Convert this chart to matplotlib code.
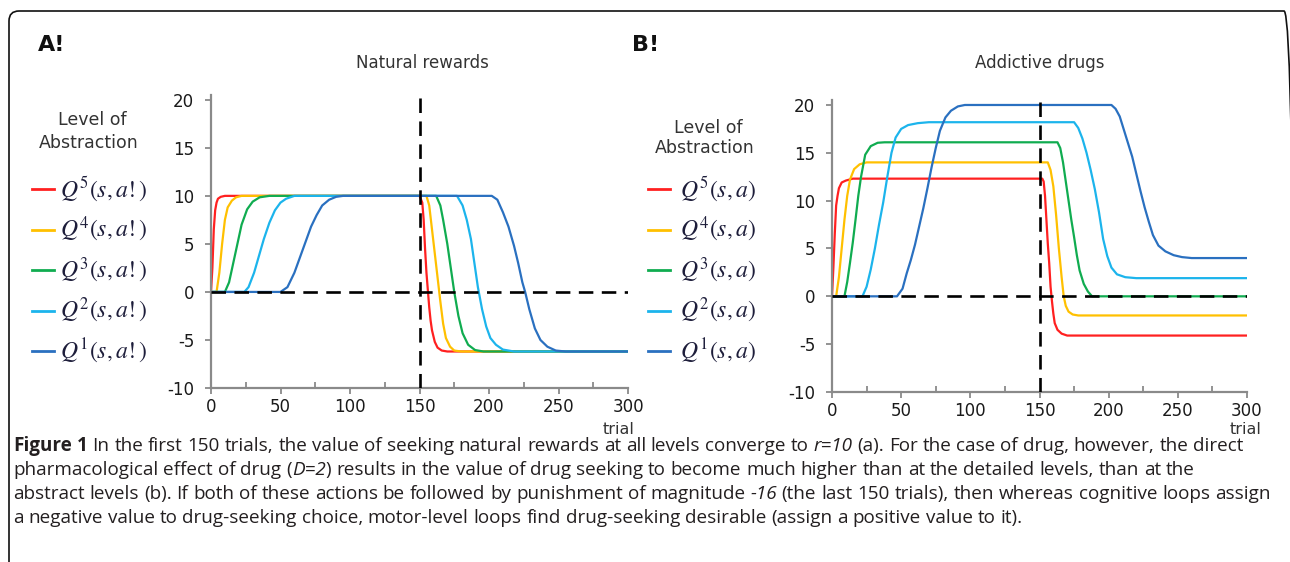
#!/usr/bin/env python3
"""Value of seeking natural rewards vs addictive drugs at five levels of abstraction."""

import matplotlib

matplotlib.use("Agg")
import matplotlib.pyplot as plt
from matplotlib.patches import FancyBboxPatch
from matplotlib.transforms import IdentityTransform

# ---- data (trial, value) ----
nat_q5_t = [0, 1, 2, 3, 4, 5, 7, 10, 150, 152, 153, 154, 155, 156, 157, 158, 159, 161, 163, 166, 170, 300]
nat_q5_v = [0, 2.5, 6.5, 8.5, 9.3, 9.7, 9.9, 10, 10, 9.3, 7.5, 4.5, 2.0, 0.2, -1.6, -3.0, -4.0, -5.2, -5.8, -6.1, -6.2, -6.2]
nat_q4_t = [0, 4, 6, 8, 10, 12, 15, 18, 22, 155, 157, 159, 161, 163, 165, 167, 169, 172, 175, 180, 300]
nat_q4_v = [0, 0, 2, 5, 7.5, 8.8, 9.5, 9.85, 10, 10, 9, 6.5, 4, 1.5, -1, -3.3, -4.8, -5.7, -6.1, -6.2, -6.2]
nat_q3_t = [0, 10, 13, 16, 19, 22, 26, 30, 35, 42, 162, 165, 167, 170, 173, 175, 178, 181, 185, 190, 196, 300]
nat_q3_v = [0, 0, 1, 3, 5, 7, 8.6, 9.4, 9.85, 10, 10, 9, 7.5, 5, 2, 0, -2.5, -4.3, -5.5, -6.05, -6.2, -6.2]
nat_q2_t = [0, 24, 27, 31, 35, 38, 42, 46, 50, 54, 60, 177, 181, 184, 187, 190, 192, 195, 198, 201, 205, 210, 218, 300]
nat_q2_v = [0, 0, 0.5, 2, 4, 5.5, 7.2, 8.5, 9.3, 9.7, 10, 10, 9, 7.5, 5.5, 2.5, 0.5, -1.8, -3.6, -4.8, -5.5, -6, -6.2, -6.2]
nat_q1_t = [0, 50, 55, 60, 65, 68, 72, 76, 80, 85, 90, 95, 202, 206, 210, 214, 218, 221, 224, 226, 229, 233, 237, 242, 248, 255, 300]
nat_q1_v = [0, 0, 0.5, 2, 4, 5.2, 6.8, 8, 9, 9.6, 9.9, 10, 10, 9.6, 8.3, 6.8, 4.8, 3, 1, 0, -1.8, -3.8, -5, -5.7, -6.1, -6.2, -6.2]

drug_q5_t = [0, 1, 2, 3, 4, 5, 7, 10, 15, 152, 153, 154, 155, 156, 157, 158, 159, 160, 161, 163, 166, 170, 300]
drug_q5_v = [0, 3, 6.5, 9.5, 10.5, 11.3, 11.9, 12.1, 12.3, 12.3, 12, 10.5, 8, 5.5, 3.5, 1, -0.5, -1.8, -2.8, -3.5, -3.9, -4.1, -4.1]
drug_q4_t = [0, 3, 5, 7, 9, 11, 13, 16, 20, 25, 156, 158, 160, 162, 164, 166, 167.5, 169, 171, 174, 178, 300]
drug_q4_v = [0, 0, 2, 5, 8, 10.5, 12.2, 13.3, 13.8, 14, 14, 13.2, 11.5, 8.5, 5, 2, 0, -1, -1.6, -1.9, -2, -2]
drug_q3_t = [0, 9, 11, 13, 15, 17, 19, 21, 24, 28, 33, 38, 163, 165, 167, 169, 171, 173, 175, 177, 179, 182, 185, 188, 300]
drug_q3_v = [0, 0, 1.5, 3.5, 5.6, 8, 10.5, 12.5, 14.8, 15.7, 16.05, 16.1, 16.1, 15.5, 14, 12, 10, 8, 6.2, 4.3, 2.7, 1.3, 0.5, 0, 0]
drug_q2_t = [0, 22, 25, 28, 31, 34, 37, 40, 43, 46, 50, 55, 62, 70, 175, 178, 181, 184, 187, 190, 193, 196, 199, 202, 206, 212, 220, 300]
drug_q2_v = [0, 0, 1, 2.8, 5, 7.5, 9.8, 12.5, 15, 16.6, 17.5, 17.9, 18.1, 18.2, 18.2, 17.6, 16.5, 15, 13.2, 11.2, 8.8, 6, 4.2, 3, 2.3, 2, 1.9, 1.9]
drug_q1_t = [0, 47, 51, 54, 57, 60, 63, 66, 69, 72, 75, 78, 82, 86, 91, 96, 202, 205, 208, 211, 214, 217, 220, 223, 226, 229, 232, 236, 241, 247, 253, 260, 300]
drug_q1_v = [0, 0, 0.8, 2.4, 3.8, 5.4, 7.3, 9.2, 11.3, 13.5, 15.5, 17.3, 18.7, 19.4, 19.85, 20, 20, 19.6, 18.8, 17.4, 16, 14.6, 12.8, 11, 9.3, 7.8, 6.4, 5.3, 4.7, 4.3, 4.1, 4, 4]

level_colors = ["#ff2020", "#ffc000", "#10ac50", "#1cb4ec", "#2a70c0"]
labels_nat = [r"$Q^{5}(s,a!)$", r"$Q^{4}(s,a!)$", r"$Q^{3}(s,a!)$", r"$Q^{2}(s,a!)$", r"$Q^{1}(s,a!)$"]
labels_drug = [r"$Q^{5}(s,a)$", r"$Q^{4}(s,a)$", r"$Q^{3}(s,a)$", r"$Q^{2}(s,a)$", r"$Q^{1}(s,a)$"]
y_ticks = [-10, -5, 0, 5, 10, 15, 20]
x_ticks = [0, 50, 100, 150, 200, 250, 300]

caption_lines = [
    [("Figure 1", "b"), (" In the first 150 trials, the value of seeking natural rewards at all levels converge to ", "n"),
     ("r=10", "i"), (" (a). For the case of drug, however, the direct", "n")],
    [("pharmacological effect of drug (", "n"), ("D=2", "i"),
     (") results in the value of drug seeking to become much higher than at the detailed levels, than at the", "n")],
    [("abstract levels (b). If both of these actions be followed by punishment of magnitude ", "n"), ("-16", "i"),
     (" (the last 150 trials), then whereas cognitive loops assign", "n")],
    [("a negative value to drug-seeking choice, motor-level loops find drug-seeking desirable (assign a positive value to it).", "n")],
]

W, H = 1290, 562
plt.rcParams["mathtext.fontset"] = "stix"
plt.rcParams["axes.unicode_minus"] = False
fig = plt.figure(figsize=(W / 100, H / 100), dpi=100)


def px(x, y):
    """pixel coords (from top-left) -> figure fraction"""
    return x / W, 1 - y / H


def setup_axes(rect):
    ax = fig.add_axes(rect)
    ax.set_xlim(0, 300)
    ax.set_ylim(-10, 20.5)
    for s in ("top", "right"):
        ax.spines[s].set_visible(False)
    for s in ("left", "bottom"):
        ax.spines[s].set_color("#8a8a8a")
        ax.spines[s].set_linewidth(1.6)
    ax.set_yticks(y_ticks)
    ax.set_xticks(x_ticks)
    ax.set_xticks(range(25, 300, 50), minor=True)
    ax.tick_params(axis="y", direction="out", length=4, width=1.3, color="#8a8a8a",
                   pad=8, labelsize=12, labelcolor="#1a1a1a")
    ax.tick_params(axis="x", which="major", direction="out", length=4, width=1.3, color="#8a8a8a",
                   pad=3, labelsize=12, labelcolor="#1a1a1a")
    ax.tick_params(axis="x", which="minor", direction="in", length=4, width=1.3, color="#8a8a8a")
    return ax


def draw_curves(ax, series):
    for (t, v), c in zip(series, level_colors):
        ax.plot(t, v, color=c, lw=1.6, solid_joinstyle="round", zorder=2)
    ax.plot([0, 300], [0, 0], color="black", lw=1.9, dashes=(5.5, 3.2), zorder=3)
    ax.axvline(150, color="black", lw=1.9, dashes=(5.5, 3.2), zorder=3)


def draw_legend(x_line, x_text, y_title, labels):
    fig.text(*px(x_line + 60, y_title[0]), "Level of", ha="center", va="center", fontsize=12.5, color="#333333")
    fig.text(*px(x_line + 57, y_title[1]), "Abstraction", ha="center", va="center", fontsize=12.5, color="#333333")
    for i, (lab, c) in enumerate(zip(labels, level_colors)):
        y = 189 + 40.5 * i
        fig.add_artist(plt.Line2D([x_line / W, (x_line + 22) / W], [1 - y / H] * 2, color=c, lw=2))
        fig.text(*px(x_text, y), lab, ha="left", va="center", fontsize=17, color="#1d1d3a")


# panel A
axA = setup_axes([211 / W, 174 / H, 417 / W, 293 / H])
draw_curves(axA, [(nat_q5_t, nat_q5_v), (nat_q4_t, nat_q4_v), (nat_q3_t, nat_q3_v),
                  (nat_q2_t, nat_q2_v), (nat_q1_t, nat_q1_v)])
# panel B
axB = setup_axes([832 / W, 170 / H, 415 / W, 291.8 / H])
draw_curves(axB, [(drug_q5_t, drug_q5_v), (drug_q4_t, drug_q4_v), (drug_q3_t, drug_q3_v),
                  (drug_q2_t, drug_q2_v), (drug_q1_t, drug_q1_v)])

fig.text(*px(422, 63), "Natural rewards", fontsize=12, ha="center", va="center", color="#333333")
fig.text(*px(1040, 63), "Addictive drugs", fontsize=12, ha="center", va="center", color="#333333")
fig.text(*px(38, 45), "A!", fontsize=16, fontweight="bold", va="center", ha="left", color="#111111")
fig.text(*px(632, 45), "B!", fontsize=16, fontweight="bold", va="center", ha="left", color="#111111")
fig.text(*px(619, 429), "trial", fontsize=11.5, ha="center", va="center", color="#333333")
fig.text(*px(1246, 429), "trial", fontsize=11.5, ha="center", va="center", color="#333333")

draw_legend(32, 60, (120, 143), labels_nat)
draw_legend(648, 680, (128, 148), labels_drug)

# rounded border (only the top/left edges fall inside the picture)
fig.add_artist(FancyBboxPatch((9, -30), 1285, 562 - 11 + 30, boxstyle="round,pad=0,rounding_size=10",
                              transform=IdentityTransform(), fill=False, ec="#111111", lw=1.2))

# caption: left aligned, word by word; size fitted so the longest line spans the text block
renderer = fig.canvas.get_renderer()
styles = {"n": {}, "b": {"fontweight": "bold"}, "i": {"fontstyle": "italic"}}
cap_font = dict(family=["Open Sans", "DejaVu Sans"], fontsize=10, color="#231f20")


def text_width(s, style):
    t = fig.text(0, 0, s, **cap_font, **styles[style])
    w = t.get_window_extent(renderer).width
    t.remove()
    return w


longest = max(sum(text_width(s, st) for s, st in runs) for runs in caption_lines)
cap_font["fontsize"] = 10 * 1258 / longest
space_w = text_width("x x", "n") - text_width("xx", "n")

cap_x0 = 13
for li, runs in enumerate(caption_lines):
    # split the runs into words; pieces without a space between stay glued
    words = []
    new_word = True
    for text, style in runs:
        for i, part in enumerate(text.split(" ")):
            if i > 0:
                new_word = True
            if part == "":
                continue
            if new_word or not words:
                words.append([(part, style)])
            else:
                words[-1].append((part, style))
            new_word = False
    x = cap_x0
    y = 451 + 24 * li
    for w in words:
        for p, st in w:
            fig.text(*px(x, y), p, va="baseline", ha="left", **cap_font, **styles[st])
            x += text_width(p, st)
        x += space_w

fig.savefig("out.png", dpi=100)
